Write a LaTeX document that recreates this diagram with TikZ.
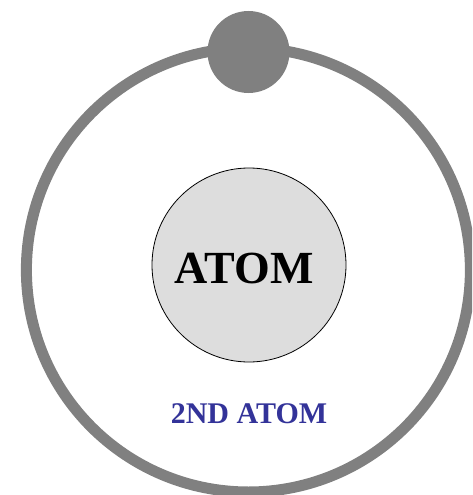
\documentclass[tikz,border=0pt]{standalone}
\usepackage{fontspec}
\setmainfont{Liberation Serif}
\usetikzlibrary{positioning}
\definecolor{orbitgray}{HTML}{808080}
\definecolor{nucleusfill}{HTML}{DDDDDD}
\definecolor{labelblue}{HTML}{333399}
\begin{document}
\begin{tikzpicture}[
  x=1pt,y=-1pt,
  orbit/.style={circle,draw=orbitgray,line width=11pt,minimum size=444pt,inner sep=0pt},
  electron/.style={circle,fill=orbitgray,minimum size=82pt,inner sep=0pt},
  nucleus/.style={circle,draw,fill=nucleusfill,line width=0.8pt,minimum size=194pt,inner sep=0pt,font=\fontsize{46}{50}\selectfont\bfseries},
  atom label/.style={text=labelblue,inner sep=0pt,font=\fontsize{30}{34}\selectfont\bfseries}
]
\useasboundingbox (0,0) rectangle (472,495);
\clip (0,0) rectangle (472,495);
\node[orbit] (orbit) at (248.4,270) {};
\node[electron] (electron) at (248.5,52) {};
\node[nucleus] (nucleus) at (249,265) {};
\node[font=\fontsize{46}{50}\selectfont\bfseries,inner sep=0pt] (name) at (244,268) {ATOM};
\node[atom label] (second) at (249,414) {2ND ATOM};
\end{tikzpicture}
\end{document}
